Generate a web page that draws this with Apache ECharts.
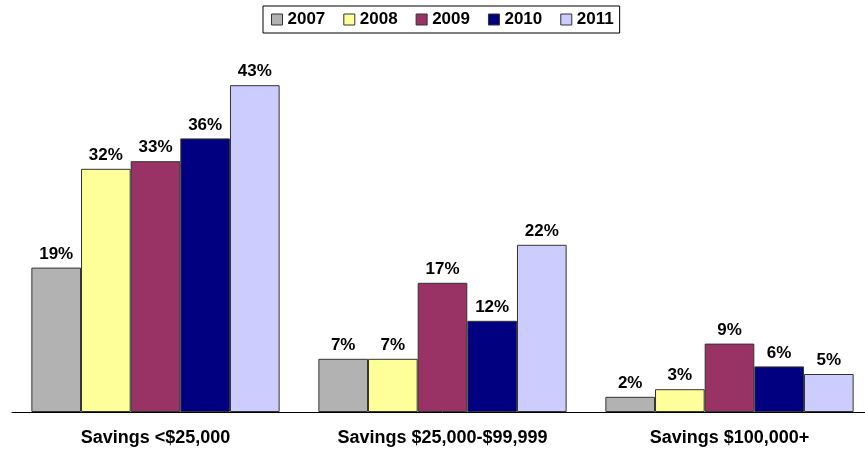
<!DOCTYPE html>
<html><head><meta charset="utf-8">
<script src="https://cdn.jsdelivr.net/npm/echarts@6/dist/echarts.min.js"></script>
<style>html,body{margin:0;padding:0;background:#fff;overflow:hidden}#c{width:873px;height:450px}</style>
</head><body><div id="c"></div>
<script>
const categories = ['Savings <$25,000', 'Savings $25,000-$99,999', 'Savings $100,000+'];
const seriesNames = ['2007', '2008', '2009', '2010', '2011'];
const v2007 = [19, 7, 2];
const v2008 = [32, 7, 3];
const v2009 = [33, 17, 9];
const v2010 = [36, 12, 6];
const v2011 = [43, 22, 5];
const values = [v2007, v2008, v2009, v2010, v2011];
const colors = ['#b2b2b2', '#ffff99', '#993366', '#000080', '#ccccff'];

const chart = echarts.init(document.getElementById('c'));
const font = '"Liberation Sans", Arial, sans-serif';
chart.setOption({
  animation: false,
  textStyle: { fontFamily: font },
  legend: {
    top: 6, left: 263,
    itemWidth: 11, itemHeight: 11, itemGap: 18,
    borderColor: '#000', borderWidth: 1, padding: [5, 6, 5, 8],
    textStyle: { fontFamily: font, fontWeight: 'bold', fontSize: 17, color: '#000' },
    data: seriesNames.map(n => ({ name: n, icon: 'rect', itemStyle: { borderColor: '#333', borderWidth: 1 } }))
  },
  grid: { left: 12, right: 0, top: 32, bottom: 38, containLabel: false },
  xAxis: {
    type: 'category', data: categories,
    axisLine: { lineStyle: { color: '#000', width: 1 } },
    axisTick: { show: false },
    axisLabel: { fontFamily: font, fontWeight: 'bold', fontSize: 18, color: '#000', margin: 17 }
  },
  yAxis: { type: 'value', min: 0, max: 50, show: false, splitLine: { show: false } },
  series: seriesNames.map((n, i) => ({
    name: n, type: 'bar', data: values[i],
    barGap: '0%', barCategoryGap: '13.5%',
    itemStyle: { color: colors[i], borderColor: '#333', borderWidth: 1 },
    label: { show: true, position: 'top', distance: 5, formatter: '{c}%',
      fontFamily: font, fontWeight: 'bold', fontSize: 17, color: '#000' }
  }))
});
</script></body></html>
